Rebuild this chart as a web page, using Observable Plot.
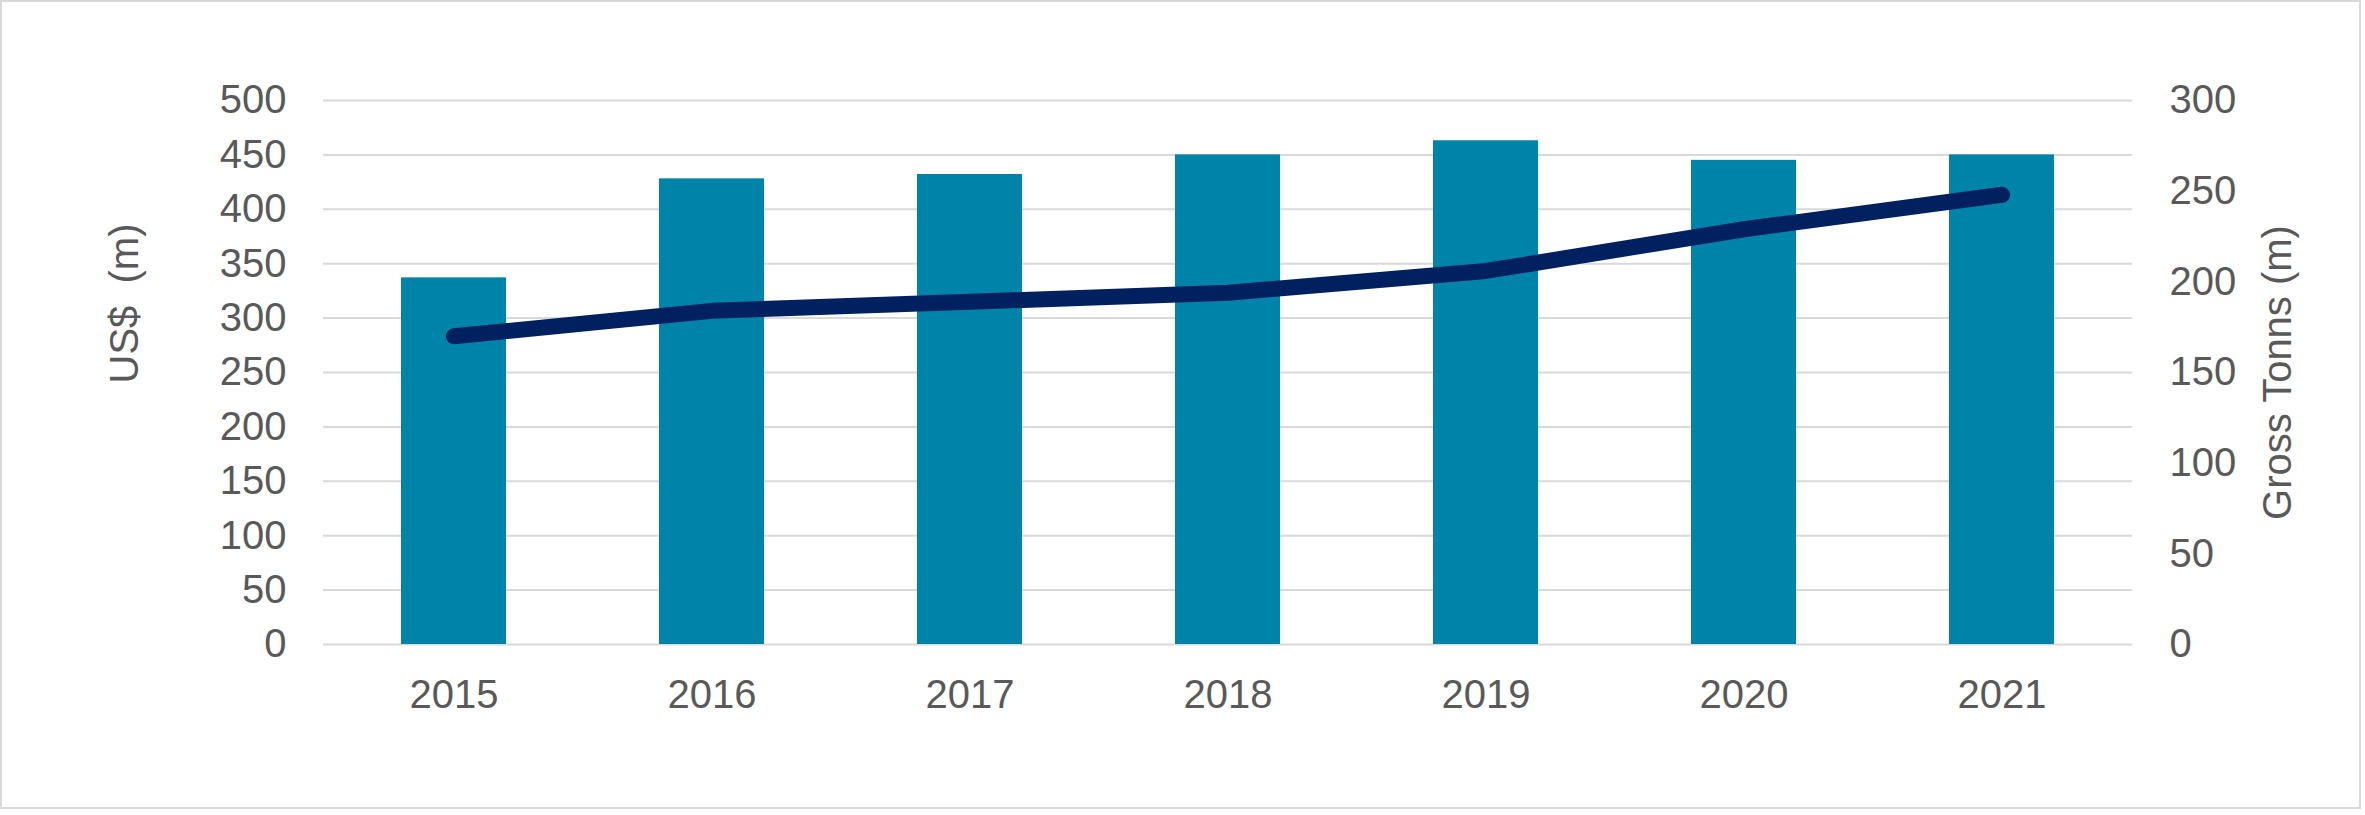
<!DOCTYPE html>
<html>
<head>
<meta charset="utf-8">
<script src="https://cdn.jsdelivr.net/npm/d3@7"></script>
<script src="https://cdn.jsdelivr.net/npm/@observablehq/plot@0.6"></script>
<style>
  html, body { margin: 0; padding: 0; background: #ffffff; }
  #wrap { position: relative; width: 2365px; height: 815px; }
  #wrap svg { display: block; }
  #border { position: absolute; left: 0; top: 0; width: 2361px; height: 809px; box-sizing: border-box; border: 2px solid #d9d9d9; pointer-events: none; }
</style>
</head>
<body>
<div id="wrap"><div id="border"></div></div>
<script>
// ---- data ----
const years = ["2015", "2016", "2017", "2018", "2019", "2020", "2021"];
const valueUSD = [337, 428, 432, 450, 463, 445, 450];      // US$ (m), bars, left axis
const grossTonns = [170, 184, 189, 194, 206, 229, 248];    // Gross Tonns (m), line, right axis
const leftTicks = [0, 50, 100, 150, 200, 250, 300, 350, 400, 450, 500];
const rightTicks = [0, 50, 100, 150, 200, 250, 300];
const leftTitle = "US$\u00a0 (m)";
const rightTitle = "Gross Tonns (m)";

const leftMax = 500, rightMax = 300;
const k = leftMax / rightMax; // map right-axis values onto the left scale

const table = years.map((y, i) => ({ year: y, usd: valueUSD[i], tons: grossTonns[i] }));

const textColor = "#595959";

const chart = Plot.plot({
  width: 2365,
  height: 815,
  marginLeft: 323,
  marginRight: 233,
  marginTop: 100,
  marginBottom: 171,
  style: { fontFamily: "'Liberation Sans', Arial, sans-serif", fontSize: "40px", color: textColor, background: "transparent" },
  x: { domain: years, paddingInner: 0.594, paddingOuter: 0.297, align: 0.5 },
  y: { domain: [0, leftMax] },
  marks: [
    Plot.gridY(leftTicks, { stroke: "#d9d9d9", strokeOpacity: 1, strokeWidth: 2 }),
    Plot.barY(table, { x: "year", y: "usd", fill: "#0083a9" }),
    Plot.line(table, { x: "year", y: d => d.tons * k, stroke: "#002060", strokeWidth: 16, strokeLinecap: "round", strokeLinejoin: "round" }),
    Plot.axisY(leftTicks, { anchor: "left", tickSize: 0, tickPadding: 37, fontSize: 40, label: null }),
    Plot.axisY(rightTicks, { anchor: "right", y: d => d * k, tickFormat: d => String(d), tickSize: 0, tickPadding: 37, fontSize: 40, label: null }),
    Plot.axisX({ anchor: "bottom", tickSize: 0, tickPadding: 35, fontSize: 40, label: null }),
    Plot.text([leftTitle], { frameAnchor: "left", text: d => d, textAnchor: "middle", rotate: -90, dx: 125 - 323, dy: 303 - 372, fontSize: 40, fill: textColor }),
    Plot.text([rightTitle], { frameAnchor: "right", text: d => d, textAnchor: "middle", rotate: -90, dx: 2278 - 2132, dy: 0, fontSize: 40, fill: textColor })
  ]
});

document.getElementById("wrap").prepend(chart);
</script>
</body>
</html>
